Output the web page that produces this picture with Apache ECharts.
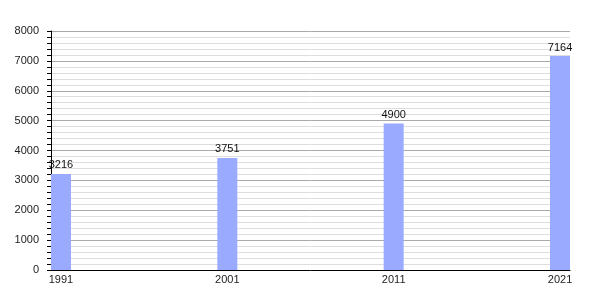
<!DOCTYPE html>
<html><head><meta charset="utf-8">
<script src="https://cdn.jsdelivr.net/npm/echarts@6/dist/echarts.min.js"></script>
<style>html,body{margin:0;padding:0;background:#fff}#c{width:600px;height:300px}</style>
</head><body><div id="c"></div>
<script>
const years = [1991, 2001, 2011, 2021];
const population = [3216, 3751, 4900, 7164];
const yTicks = [0, 1000, 2000, 3000, 4000, 5000, 6000, 7000, 8000];

const chart = echarts.init(document.getElementById('c'), null, {renderer: 'canvas'});
chart.setOption({
  animation: false,
  grid: {left: 51, right: 30, top: 31, bottom: 30, containLabel: false},
  xAxis: {
    type: 'value', min: 1990.4, max: 2021.6,
    axisLine: {show: true, lineStyle: {color: '#000', width: 1}},
    axisTick: {show: false},
    splitLine: {show: false},
    axisLabel: {customValues: years, color: '#222', fontSize: 11, fontFamily: 'Liberation Sans, Arial', margin: 4,
      formatter: v => String(v)}
  },
  yAxis: {
    type: 'value', min: yTicks[0], max: yTicks[yTicks.length - 1], interval: 1000,
    axisLine: {show: true, lineStyle: {color: '#000', width: 1}},
    axisTick: {show: true, length: 4, lineStyle: {color: '#000'}},
    minorTick: {show: true, splitNumber: 5, length: 4, lineStyle: {color: '#000'}},
    splitLine: {show: true, lineStyle: {color: '#aaa', width: 1}},
    minorSplitLine: {show: true, lineStyle: {color: '#ddd', width: 1}},
    axisLabel: {color: '#222', fontSize: 11, fontFamily: 'Liberation Sans, Arial', margin: 12,
      formatter: v => String(v)}
  },
  series: [{
    type: 'bar',
    data: years.map((y, i) => [y, population[i]]),
    barWidth: 20,
    itemStyle: {color: '#99aaff'},
    label: {show: true, position: 'top', distance: 3, color: '#111', fontSize: 11, fontFamily: 'Liberation Sans, Arial'}
  }]
});
</script></body></html>
